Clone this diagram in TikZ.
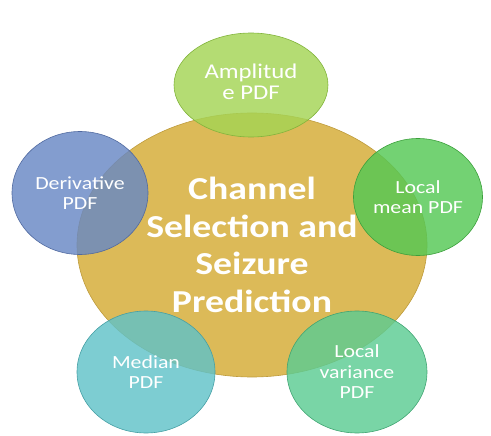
\documentclass[tikz,border=0pt]{standalone}
\usepackage{fontspec}
\setmainfont{Carlito}[FakeStretch=1.18]
\usetikzlibrary{shapes.geometric}
\definecolor{goldfill}{RGB}{220,186,88}
\definecolor{golddraw}{RGB}{190,155,60}
\definecolor{ampfill}{RGB}{164,212,84}
\definecolor{ampdraw}{RGB}{130,180,60}
\definecolor{derfill}{RGB}{104,136,196}
\definecolor{derdraw}{RGB}{80,105,160}
\definecolor{meanfill}{RGB}{84,200,84}
\definecolor{meandraw}{RGB}{60,160,60}
\definecolor{medfill}{RGB}{96,194,200}
\definecolor{meddraw}{RGB}{70,160,165}
\definecolor{varfill}{RGB}{92,204,146}
\definecolor{vardraw}{RGB}{65,165,115}
\tikzset{
  hub/.style={ellipse, fill=goldfill, draw=golddraw, line width=0.6pt,
    text=white, align=center, inner sep=0pt,
    font=\bfseries\fontsize{32}{37.5}\selectfont},
  petal/.style={ellipse, fill opacity=0.82, text opacity=1, line width=0.6pt,
    text=white, align=center, inner sep=0pt,
    font=\fontsize{18.5}{20.5}\selectfont}
}
\begin{document}
\begin{tikzpicture}[x=1pt,y=-1pt]
\useasboundingbox (0,0) rectangle (491,436);
\node[hub, minimum width=350pt, minimum height=264pt] (hub) at (252,245)
  {Channel\\Selection and\\Seizure\\Prediction};
\node[petal, fill=ampfill, draw=ampdraw, minimum width=154pt, minimum height=104pt,
  font=\fontsize{21}{25}\selectfont] (amp) at (251,85) {\raisebox{6pt}{\shortstack{Amplitud\\[1pt]e PDF}}};
\node[petal, fill=derfill, draw=derdraw, minimum width=136pt, minimum height=123pt] (der) at (80,193)
  {Derivative\\PDF};
\node[petal, fill=meanfill, draw=meandraw, minimum width=129pt, minimum height=117pt] (mean) at (418,197)
  {Local\\mean PDF};
\node[petal, fill=medfill, draw=meddraw, minimum width=138pt, minimum height=122pt] (med) at (146,372)
  {Median\\PDF};
\node[petal, fill=varfill, draw=vardraw, minimum width=140pt, minimum height=122pt] (var) at (357,372)
  {Local\\variance\\PDF};
\end{tikzpicture}
\end{document}
